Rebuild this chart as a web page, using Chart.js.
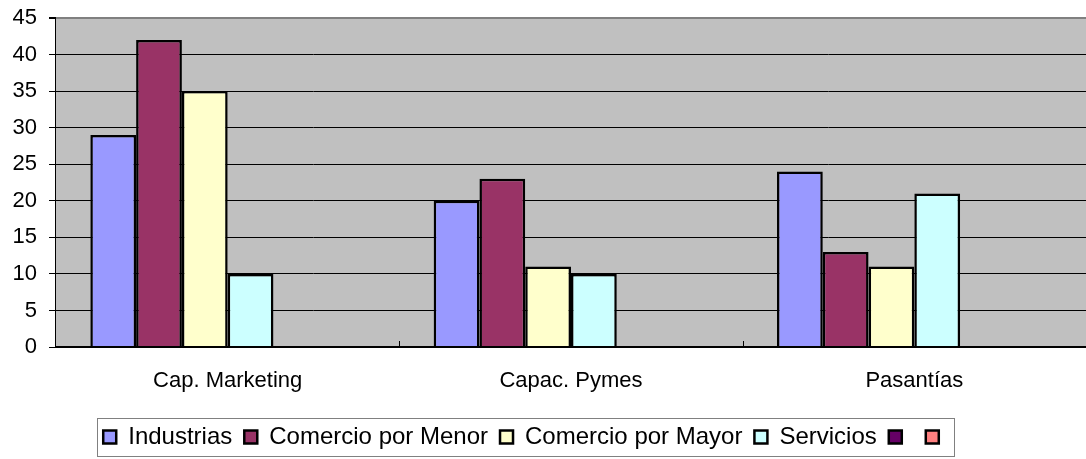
<!DOCTYPE html>
<html>
<head>
<meta charset="utf-8">
<script src="https://cdn.jsdelivr.net/npm/chart.js@4/dist/chart.umd.min.js"></script>
<style>
html,body{margin:0;padding:0;background:#fff;}
#wrap{width:1086px;height:459px;position:relative;}
</style>
</head>
<body>
<div id="wrap"><canvas id="c" width="1086" height="459"></canvas></div>
<script>
const categories = ["Cap. Marketing", "Capac. Pymes", "Pasantías"];
const seriesNames = ["Industrias", "Comercio por Menor", "Comercio por Mayor", "Servicios", "", ""];
const industrias = [29, 20, 24];
const comercioMenor = [42, 23, 13];
const comercioMayor = [35, 11, 11];
const servicios = [10, 10, 21];
const serie5 = [null, null, null];
const serie6 = [null, null, null];
const yTicks = [0, 5, 10, 15, 20, 25, 30, 35, 40, 45];
const colors = ["#9999FF", "#993366", "#FFFFCC", "#CCFFFF", "#660066", "#FF8080"];

const seriesData = [industrias, comercioMenor, comercioMayor, servicios, serie5, serie6];

const plotBg = {
  id: 'plotBg',
  afterLayout(chart) {
    const lg = chart.legend;
    if (lg) { lg.left -= 16; lg.right -= 16; }
  },
  beforeDraw(chart) {
    const {ctx, chartArea: a} = chart;
    ctx.save();
    ctx.fillStyle = '#C0C0C0';
    ctx.fillRect(a.left, a.top, a.right - a.left, a.bottom - a.top);
    ctx.restore();
  },
  afterDatasetsDraw(chart) {
    const {ctx, chartArea: a, scales} = chart;
    const x = scales.x;
    ctx.save();
    ctx.strokeStyle = '#000';
    ctx.lineWidth = 1;
    const n = categories.length;
    const w = (a.right - a.left) / n;
    for (let i = 1; i < n; i++) {
      const px = Math.round(x.getPixelForValue(i) - w / 2) + 0.5;
      ctx.beginPath();
      ctx.moveTo(px, a.bottom);
      ctx.lineTo(px, a.bottom - 6);
      ctx.stroke();
    }
    ctx.lineWidth = 2;
    ctx.beginPath();
    ctx.moveTo(a.left, a.bottom);
    ctx.lineTo(a.right, a.bottom);
    ctx.stroke();
    ctx.lineWidth = 1;
    ctx.beginPath();
    ctx.moveTo(a.left - 0.5, a.top);
    ctx.lineTo(a.left - 0.5, a.bottom);
    ctx.stroke();
    ctx.restore();
  },
  afterDraw(chart) {
    const lg = chart.legend;
    if (!lg || !lg.legendHitBoxes || !lg.legendHitBoxes.length) return;
    const boxes = lg.legendHitBoxes;
    let minX = Infinity;
    boxes.forEach(b => { minX = Math.min(minX, b.left); });
    const {ctx} = chart;
    const last = boxes[boxes.length - 1];
    const right = last.left + 13 + 16;
    ctx.save();
    ctx.strokeStyle = '#808080';
    ctx.lineWidth = 1;
    const top = Math.round(boxes[0].top + boxes[0].height / 2) - 18.5;
    ctx.strokeRect(Math.round(minX) - 5.5, top, Math.round(right - minX) + 5, 38);
    ctx.restore();
  }
};

Chart.defaults.font.family = "'Liberation Sans', Arial, sans-serif";
Chart.defaults.color = '#000';

new Chart(document.getElementById('c'), {
  type: 'bar',
  data: {
    labels: categories,
    datasets: seriesNames.map((name, i) => ({
      label: name,
      data: seriesData[i],
      backgroundColor: colors[i],
      borderColor: '#000',
      borderWidth: 2.5,
      categoryPercentage: 0.8,
      barPercentage: 1.0
    }))
  },
  plugins: [plotBg],
  options: {
    responsive: false,
    animation: false,
    layout: { padding: { top: 18, right: 0, left: 0, bottom: 0 } },
    plugins: {
      tooltip: { enabled: false },
      legend: {
        position: 'bottom',
        labels: {
          boxWidth: 13,
          boxHeight: 13,
          padding: 12,
          font: { size: 24 },
          color: '#000'
        }
      }
    },
    scales: {
      x: {
        offset: true,
        grid: { display: false, drawTicks: false },
        border: { display: false },
        ticks: { padding: 21, font: { size: 22 }, color: '#000' },
        afterFit(s) { s.height = 66; }
      },
      y: {
        min: 0,
        max: 45,
        afterBuildTicks(s) { s.ticks = yTicks.map(v => ({ value: v })); },
        grid: {
          color: ctx => (ctx.tick && ctx.tick.value === 45) ? '#808080' : '#000',
          lineWidth: ctx => (ctx.tick && ctx.tick.value === 45) ? 2 : 1,
          tickColor: '#000',
          tickLength: 7,
          drawTicks: true
        },
        border: { display: false },
        ticks: { padding: 12, font: { size: 22 }, color: '#000' },
        afterFit(s) { s.width = 56; s.paddingTop = 0; s.paddingBottom = 0; }
      }
    }
  }
});
</script>
</body>
</html>
